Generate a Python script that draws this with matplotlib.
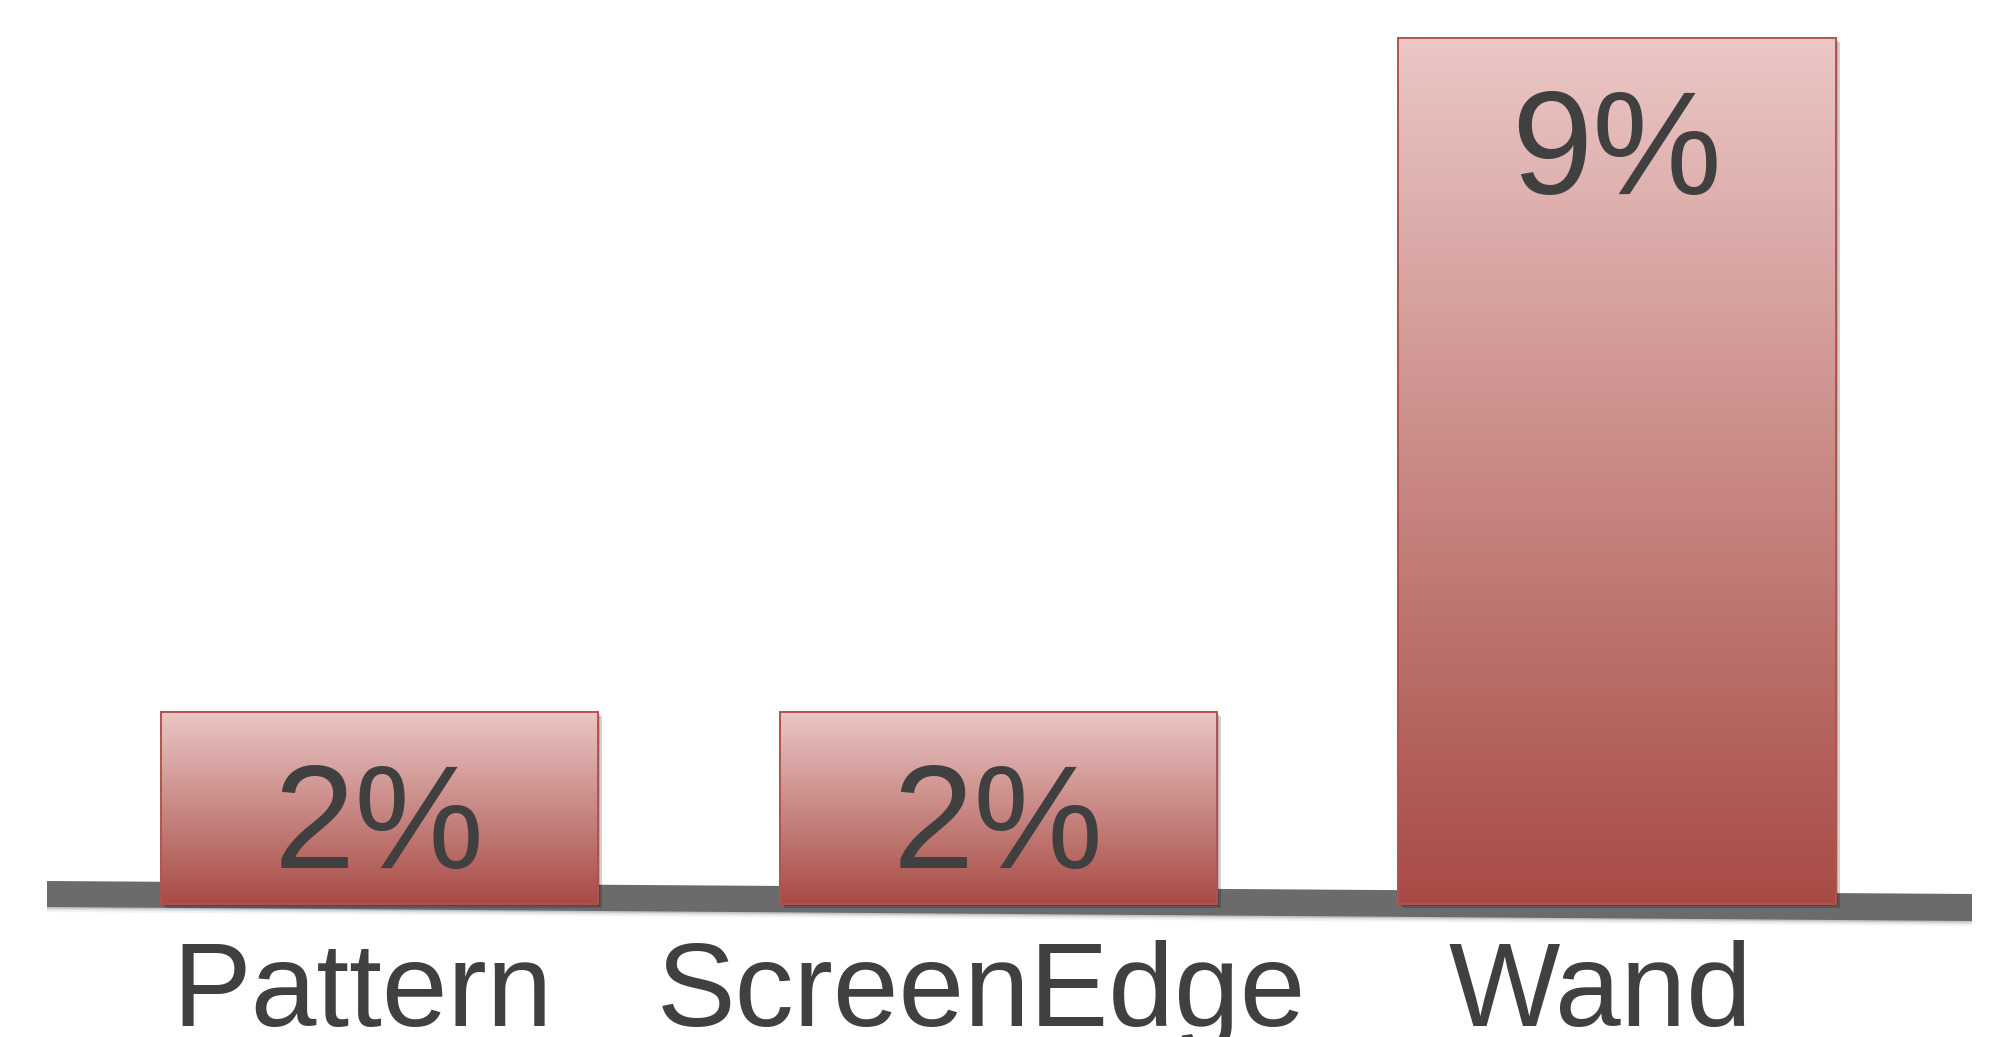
import numpy as np
import matplotlib.pyplot as plt
import matplotlib.patheffects as pe
from matplotlib.colors import LinearSegmentedColormap
from matplotlib.patches import Polygon

# data
categories = ["Pattern", "ScreenEdge", "Wand"]
values = [2, 2, 9]
value_labels = ["2%", "2%", "9%"]

plt.rcParams['font.family'] = ['Liberation Sans', 'DejaVu Sans']

fig = plt.figure(figsize=(20.16, 10.37), dpi=100)
ax = fig.add_axes([0, 0, 1, 1])

x = np.arange(len(categories))
width = 0.707
text_col = '#404040'

# tilted grey floor (with a soft shadow under it), in axes fractions
def floor_pts(dy=0.0):
    W, H = 2016.0, 1037.0
    pts = [(47, 881), (1972, 894), (1972, 921), (47, 907)]
    return [(px / W, 1 - (py + dy) / H) for px, py in pts]

for k, a in [(5, 0.05), (3, 0.08), (1.5, 0.12)]:
    ax.add_patch(Polygon(floor_pts(k), closed=True, transform=ax.transAxes,
                         facecolor='k', edgecolor='none', alpha=a, zorder=1))
ax.add_patch(Polygon(floor_pts(), closed=True, transform=ax.transAxes,
                     facecolor='#6b6b6b', edgecolor='none', zorder=1.5))

# bar shadows
ax.bar(x, values, width, color='none', zorder=2,
       path_effects=[pe.SimplePatchShadow(offset=(3, -3), shadow_rgbFace='k', alpha=0.18),
                     pe.SimplePatchShadow(offset=(1.5, -1.5), shadow_rgbFace='k', alpha=0.15)])

# bars with vertical gradient
cmap = LinearSegmentedColormap.from_list('bar', ['#a84b45', '#c98985', '#ebc7c6'])
grad = np.linspace(0, 1, 256).reshape(-1, 1)
bars = ax.bar(x, values, width, facecolor='none', edgecolor='#b3524c',
              linewidth=1.4, zorder=4)
for b in bars:
    x0, y0 = b.get_x(), b.get_y()
    im = ax.imshow(grad, extent=[x0, x0 + b.get_width(), y0, y0 + b.get_height()],
                   origin='lower', cmap=cmap, aspect='auto', zorder=3)
    im.set_clip_path(b)

# value labels inside the top of each bar
for xi, v, lab in zip(x, values, value_labels):
    ax.annotate(lab, (xi, v), xytext=(0, -36), textcoords='offset points',
                ha='center', va='top', fontsize=105, color=text_col, zorder=5)

# category labels under the floor
for xi, cat in zip(x, categories):
    ax.annotate(cat, (xi, 0), xytext=(-12, -88), textcoords='offset points',
                ha='center', va='baseline', fontsize=85, color=text_col,
                annotation_clip=False)

ax.set_xlim(-0.6133, 2.6448)
ax.set_ylim(-1.3825, 9.397)
ax.axis('off')

fig.savefig('out.png', dpi=100, facecolor='white')
